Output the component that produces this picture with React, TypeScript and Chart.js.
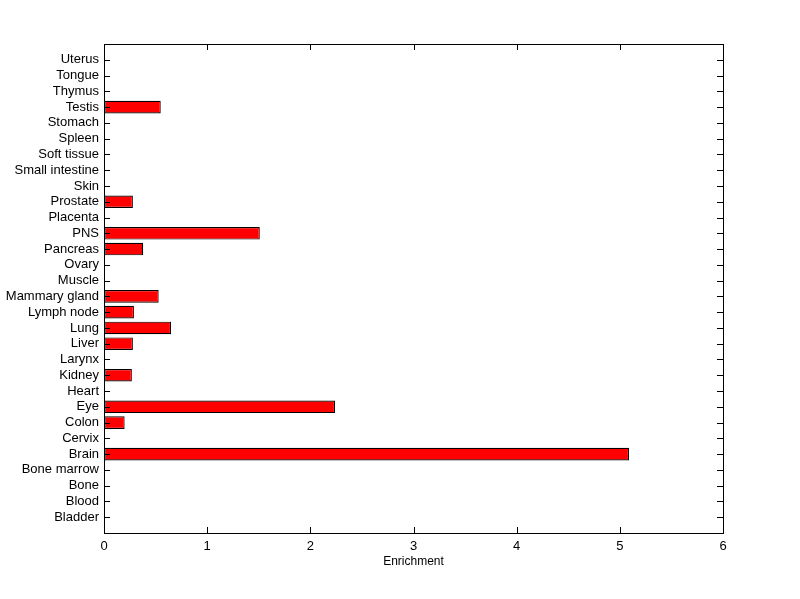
import React, { useEffect, useRef } from "react";
import { Chart, registerables } from "chart.js";

Chart.register(...registerables);

const categories = [
  "Bladder", "Blood", "Bone", "Bone marrow", "Brain", "Cervix", "Colon", "Eye",
  "Heart", "Kidney", "Larynx", "Liver", "Lung", "Lymph node", "Mammary gland",
  "Muscle", "Ovary", "Pancreas", "PNS", "Placenta", "Prostate", "Skin",
  "Small intestine", "Soft tissue", "Spleen", "Stomach", "Testis", "Thymus",
  "Tongue", "Uterus",
];
const enrichment = [
  0, 0, 0, 0, 5.09, 0, 0.2, 2.24,
  0, 0.27, 0, 0.28, 0.65, 0.29, 0.53,
  0, 0, 0.38, 1.51, 0, 0.28, 0,
  0, 0, 0, 0, 0.55, 0,
  0, 0,
];
const xTicks = [0, 1, 2, 3, 4, 5, 6];
const xLabel = "Enrichment";

const FONT = "'Liberation Sans', Arial, Helvetica, sans-serif";

const framePlugin = {
  id: "frame",
  afterDatasetsDraw(chart: any) {
    const { ctx, chartArea: a, scales } = chart;
    const len = 6;
    ctx.save();
    ctx.strokeStyle = "#000";
    ctx.lineWidth = 1;
    ctx.beginPath();
    const xs = scales.x;
    xs.ticks.forEach((t: any) => {
      const px = Math.round(xs.getPixelForValue(t.value)) + 0.5;
      ctx.moveTo(px, a.bottom);
      ctx.lineTo(px, a.bottom - len);
      ctx.moveTo(px, a.top);
      ctx.lineTo(px, a.top + len);
    });
    const ys = scales.y;
    ys.ticks.forEach((t: any) => {
      const py = Math.round(ys.getPixelForValue(t.value)) + 0.5;
      ctx.moveTo(a.left, py);
      ctx.lineTo(a.left + len, py);
      ctx.moveTo(a.right, py);
      ctx.lineTo(a.right - len, py);
    });
    ctx.stroke();
    ctx.strokeRect(
      Math.round(a.left) + 0.5,
      Math.round(a.top) + 0.5,
      Math.round(a.right - a.left),
      Math.round(a.bottom - a.top)
    );
    ctx.restore();
  },
};

export default function App() {
  const ref = useRef<HTMLCanvasElement | null>(null);
  useEffect(() => {
    if (!ref.current) return;
    const data = categories.map((c, i) => ({ x: enrichment[i], y: i + 1 }));
    const chart = new Chart(ref.current, {
      type: "bar",
      data: {
        datasets: [
          {
            data: data as any,
            backgroundColor: "#ff0000",
            borderColor: "#000000",
            borderWidth: ((c: any) => (c.raw && c.raw.x === 0 ? 0 : 1.2)) as any,
            borderSkipped: false,
            barPercentage: 0.8,
            categoryPercentage: 1,
          },
        ],
      },
      options: {
        indexAxis: "y",
        animation: false,
        responsive: false,
        maintainAspectRatio: false,
        layout: { padding: { top: 44, right: 77, left: 0, bottom: 30 } },
        plugins: { legend: { display: false }, tooltip: { enabled: false } },
        scales: {
          x: {
            type: "linear",
            min: 0,
            max: 6,
            afterBuildTicks: (s: any) => {
              s.ticks = xTicks.map((v) => ({ value: v }));
            },
            afterFit: (s: any) => {
              s.height = 36;
            },
            grid: { display: false, drawTicks: false },
            border: { display: false },
            ticks: {
              color: "#000",
              padding: 6,
              maxRotation: 0,
              font: { family: FONT, size: 13 },
            },
            title: {
              display: true,
              text: xLabel,
              color: "#000",
              padding: 0,
              font: { family: FONT, size: 12 },
            },
          },
          y: {
            type: "linear",
            min: 0,
            max: 31,
            offset: false,
            afterBuildTicks: (s: any) => {
              s.ticks = categories.map((_, i) => ({ value: i + 1 }));
            },
            afterFit: (s: any) => {
              s.width = 104;
            },
            grid: { display: false, drawTicks: false, offset: false },
            border: { display: false },
            ticks: {
              color: "#000",
              padding: 5,
              autoSkip: false,
              font: { family: FONT, size: 13 },
              callback: (v: any) => categories[Number(v) - 1] ?? "",
            },
          },
        },
      },
      plugins: [framePlugin],
    });
    return () => chart.destroy();
  }, []);
  return (
    <div style={{ position: "fixed", left: 0, top: 0, width: 800, height: 599, background: "#fff" }}>
      <canvas ref={ref} width={800} height={599} />
    </div>
  );
}
